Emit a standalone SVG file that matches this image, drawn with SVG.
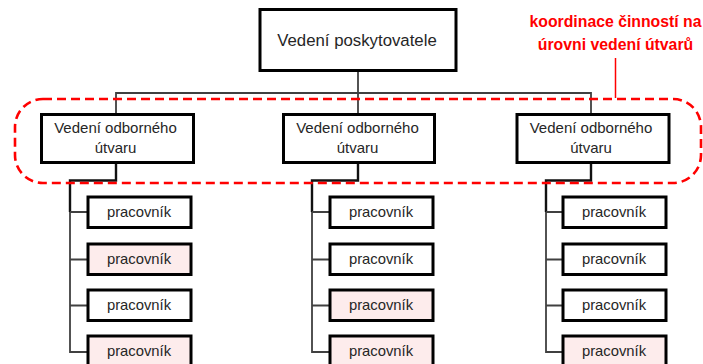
<svg xmlns="http://www.w3.org/2000/svg" width="703" height="364" viewBox="0 0 703 364">
  <style>
    .box { fill: #ffffff; stroke: #000000; stroke-width: 3; }
    .box.hl { fill: #fdecec; }
    .lbl { font-family: "Liberation Sans", Arial, sans-serif; fill: #262626; text-anchor: middle; }
    .top { font-size: 16.8px; }
    .mid { font-size: 15px; }
    .wrk { font-size: 14.8px; }
    .conn { fill: none; stroke: #404040; stroke-width: 1.8; }
    .stem { fill: none; stroke: #111111; stroke-width: 2.4; }
    .note { font-family: "Liberation Sans", Arial, sans-serif; font-weight: bold; font-size: 15.8px; fill: #ff0000; text-anchor: middle; }
  </style>

  <!-- connectors -->
  <g id="connectors">
    <path class="conn" d="M358 71 V115"/>
    <path class="conn" d="M116 114 V93 H591 V114"/>
    <!-- left branch -->
    <path class="stem" d="M116 162 V180.5 H70 V212"/>
    <path class="conn" d="M70 212 V352 H88 M70 212 H88 M70 259.5 H88 M70 305.5 H88"/>
    <!-- middle branch -->
    <path class="stem" d="M358 162 V180.5 H312 V212"/>
    <path class="conn" d="M312 212 V352 H330 M312 212 H330 M312 259.5 H330 M312 305.5 H330"/>
    <!-- right branch -->
    <path class="stem" d="M591 162 V180.5 H546 V212"/>
    <path class="conn" d="M546 212 V352 H563 M546 212 H563 M546 259.5 H563 M546 305.5 H563"/>
  </g>

  <!-- top management -->
  <g id="node-top">
    <rect class="box" x="260" y="9.5" width="196" height="61"/>
    <text class="lbl top" x="357" y="46">Vedení poskytovatele</text>
  </g>

  <!-- department heads -->
  <g id="node-dept-1">
    <rect class="box" x="41.5" y="114.5" width="152" height="48"/>
    <text class="lbl mid" x="115.5" y="133">Vedení odborného</text>
    <text class="lbl mid" x="115.5" y="152.5">útvaru</text>
  </g>
  <g id="node-dept-2">
    <rect class="box" x="283.5" y="114.5" width="151" height="48"/>
    <text class="lbl mid" x="357.5" y="133">Vedení odborného</text>
    <text class="lbl mid" x="357.5" y="152.5">útvaru</text>
  </g>
  <g id="node-dept-3">
    <rect class="box" x="517" y="114.5" width="152" height="48"/>
    <text class="lbl mid" x="591" y="133">Vedení odborného</text>
    <text class="lbl mid" x="591" y="152.5">útvaru</text>
  </g>

  <!-- workers, left column -->
  <g id="node-w1-1"><rect class="box" x="88" y="197" width="103" height="30.5"/><text class="lbl wrk" x="139" y="217">pracovník</text></g>
  <g id="node-w1-2"><rect class="box hl" x="88" y="244" width="103" height="30.5"/><text class="lbl wrk" x="139" y="264">pracovník</text></g>
  <g id="node-w1-3"><rect class="box" x="88" y="290" width="103" height="30.5"/><text class="lbl wrk" x="139" y="310">pracovník</text></g>
  <g id="node-w1-4"><rect class="box hl" x="88" y="336" width="103" height="30.5"/><text class="lbl wrk" x="139" y="356">pracovník</text></g>

  <!-- workers, middle column -->
  <g id="node-w2-1"><rect class="box" x="330" y="197" width="103" height="30.5"/><text class="lbl wrk" x="381" y="217">pracovník</text></g>
  <g id="node-w2-2"><rect class="box" x="330" y="244" width="103" height="30.5"/><text class="lbl wrk" x="381" y="264">pracovník</text></g>
  <g id="node-w2-3"><rect class="box hl" x="330" y="290" width="103" height="30.5"/><text class="lbl wrk" x="381" y="310">pracovník</text></g>
  <g id="node-w2-4"><rect class="box hl" x="330" y="336" width="103" height="30.5"/><text class="lbl wrk" x="381" y="356">pracovník</text></g>

  <!-- workers, right column -->
  <g id="node-w3-1"><rect class="box" x="563" y="197" width="103" height="30.5"/><text class="lbl wrk" x="614" y="217">pracovník</text></g>
  <g id="node-w3-2"><rect class="box" x="563" y="244" width="103" height="30.5"/><text class="lbl wrk" x="614" y="264">pracovník</text></g>
  <g id="node-w3-3"><rect class="box" x="563" y="290" width="103" height="30.5"/><text class="lbl wrk" x="614" y="310">pracovník</text></g>
  <g id="node-w3-4"><rect class="box hl" x="563" y="336" width="103" height="30.5"/><text class="lbl wrk" x="614" y="356">pracovník</text></g>

  <!-- coordination zone -->
  <g id="coordination">
    <rect x="15" y="99" width="686" height="84" rx="28" ry="28" fill="none" stroke="#ff0000" stroke-width="2.6" stroke-dasharray="9 5"/>
    <line x1="615.5" y1="58" x2="615.5" y2="98" stroke="#ff0000" stroke-width="1.5"/>
    <text class="note" x="615.5" y="27">koordinace činností na</text>
    <text class="note" x="615.5" y="50">úrovni vedení útvarů</text>
  </g>
</svg>
